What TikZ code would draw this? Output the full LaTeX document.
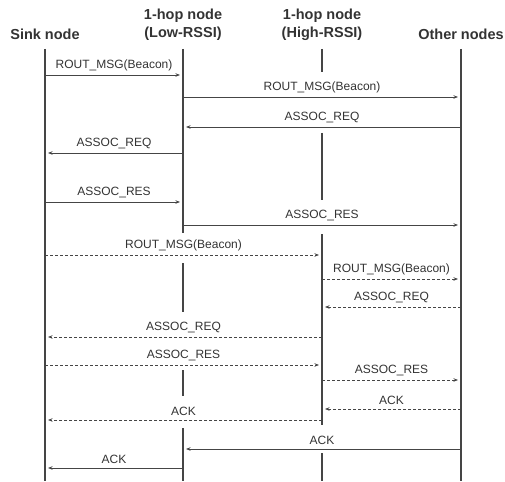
\documentclass[tikz,border=0pt]{standalone}
\usepackage{fontspec}
\setmainfont{Liberation Sans}
\usepackage{tikz}
\usetikzlibrary{arrows.meta, positioning, calc}

\definecolor{lineGray}{HTML}{454545}
\definecolor{textGray}{HTML}{333333}

\begin{document}
\begin{tikzpicture}[
    x=1pt, y=-1pt,
    every node/.style={text=textGray},
    header/.style={font=\fontsize{14.5}{18}\selectfont\bfseries, align=center, inner sep=0pt},
    lifeline/.style={draw=lineGray, line width=1.3pt},
    msg/.style={draw=lineGray, line width=0.8pt, -{Stealth[length=4.5pt, width=3.5pt]}, shorten >=3pt},
    optmsg/.style={msg, dash pattern=on 3pt off 2pt},
    lbl/.style={above=2.5pt, inner sep=1pt, font=\fontsize{12}{13}\selectfont}
]
\useasboundingbox (0,0) rectangle (505,481);

% Header nodes
\node[header] (sink) at (45,34) {Sink node};
\node[header] (lowrssi) at (183,25) {1-hop node\\(Low-RSSI)};
\node[header] (highrssi) at (322,25) {1-hop node\\(High-RSSI)};
\node[header] (other) at (461,34) {Other nodes};

% Lifelines (broken where a node is idle)
\draw[lifeline] (sink |- 0,49) -- (sink |- 0,481);
\draw[lifeline] (other |- 0,49) -- (other |- 0,481);
\foreach \a/\b in {49/233, 263/312, 370/396, 428/481}
    \draw[lifeline] (lowrssi |- 0,\a) -- (lowrssi |- 0,\b);
\foreach \a/\b in {49/72, 133/200, 234/425, 453/481}
    \draw[lifeline] (highrssi |- 0,\a) -- (highrssi |- 0,\b);

% Association through the low-RSSI node
\draw[msg] (sink |- 0,75) -- node[lbl] {ROUT\_MSG(Beacon)} (lowrssi |- 0,75);
\draw[msg] (lowrssi |- 0,97) -- node[lbl] {ROUT\_MSG(Beacon)} (other |- 0,97);
\draw[msg] (other |- 0,127) -- node[lbl] {ASSOC\_REQ} (lowrssi |- 0,127);
\draw[msg] (lowrssi |- 0,153) -- node[lbl] {ASSOC\_REQ} (sink |- 0,153);
\draw[msg] (sink |- 0,202) -- node[lbl] {ASSOC\_RES} (lowrssi |- 0,202);
\draw[msg] (lowrssi |- 0,225) -- node[lbl] {ASSOC\_RES} (other |- 0,225);

% Association through the high-RSSI node
\draw[optmsg] (sink |- 0,255) -- node[lbl] {ROUT\_MSG(Beacon)} (highrssi |- 0,255);
\draw[optmsg] (highrssi |- 0,279) -- node[lbl] {ROUT\_MSG(Beacon)} (other |- 0,279);
\draw[optmsg] (other |- 0,307) -- node[lbl] {ASSOC\_REQ} (highrssi |- 0,307);
\draw[optmsg] (highrssi |- 0,337) -- node[lbl] {ASSOC\_REQ} (sink |- 0,337);
\draw[optmsg] (sink |- 0,365) -- node[lbl] {ASSOC\_RES} (highrssi |- 0,365);
\draw[optmsg] (highrssi |- 0,380) -- node[lbl] {ASSOC\_RES} (other |- 0,380);
\draw[optmsg] (other |- 0,409) -- node[lbl] {ACK} (highrssi |- 0,409);
\draw[optmsg] (highrssi |- 0,420) -- node[lbl] {ACK} (sink |- 0,420);

% Acknowledgements
\draw[msg] (other |- 0,449) -- node[lbl] {ACK} (lowrssi |- 0,449);
\draw[msg] (lowrssi |- 0,468) -- node[lbl] {ACK} (sink |- 0,468);

\end{tikzpicture}
\end{document}
